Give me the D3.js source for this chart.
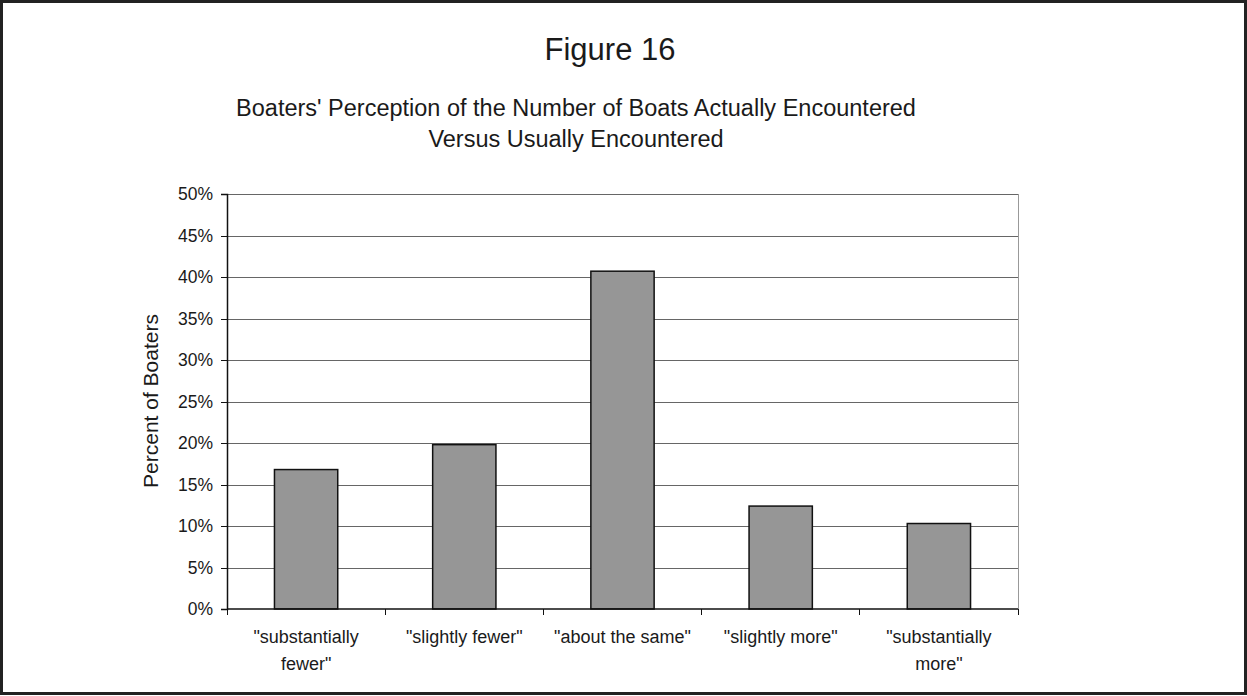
<!DOCTYPE html>
<html>
<head>
<meta charset="utf-8">
<script src="https://cdnjs.cloudflare.com/ajax/libs/d3/7.8.5/d3.min.js"></script>
<style>
  body { margin: 0; background: #fff; }
  svg text { font-family: "Liberation Sans", Arial, sans-serif; fill: #1a1a1a; }
</style>
</head>
<body>
<div id="chart"></div>
<script>
// data
const categories = [
  ['"substantially', 'fewer"'],
  ['"slightly fewer"'],
  ['"about the same"'],
  ['"slightly more"'],
  ['"substantially', 'more"']
];
const percentValues = [0.168, 0.198, 0.407, 0.124, 0.103];
const yTickValues = [0, 0.05, 0.1, 0.15, 0.2, 0.25, 0.3, 0.35, 0.4, 0.45, 0.5];

const W = 1247, H = 696;
const plot = { left: 227, right: 1018, top: 194, bottom: 609 };

const svg = d3.select("#chart")
  .append("svg")
  .attr("width", W)
  .attr("height", H);

// outer frame
svg.append("rect")
  .attr("x", 1.5).attr("y", 1.5)
  .attr("width", W - 3).attr("height", H - 4)
  .attr("fill", "#fff")
  .attr("stroke", "#222")
  .attr("stroke-width", 3);

// titles
svg.append("text")
  .attr("x", 610).attr("y", 60)
  .attr("text-anchor", "middle")
  .attr("font-size", 31)
  .text("Figure 16");

const subLines = [
  "Boaters' Perception of the Number of Boats Actually Encountered",
  "Versus Usually Encountered"
];
svg.append("g").selectAll("text")
  .data(subLines)
  .enter()
  .append("text")
  .attr("x", 576)
  .attr("y", (d, i) => 116 + i * 31)
  .attr("text-anchor", "middle")
  .attr("font-size", 23.5)
  .text(d => d);

// scales
const keys = categories.map((c, i) => "c" + i);
const x = d3.scaleBand()
  .domain(keys)
  .range([plot.left, plot.right])
  .paddingInner(0.6)
  .paddingOuter(0.3);
const xCat = d3.scaleBand()
  .domain(keys)
  .range([plot.left, plot.right]);
const y = d3.scaleLinear()
  .domain([0, 0.5])
  .range([plot.bottom, plot.top]);

// gridlines
const grid = svg.append("g")
  .attr("transform", `translate(${plot.left},0)`)
  .call(d3.axisLeft(y)
    .tickValues(yTickValues.slice(1))
    .tickSize(-(plot.right - plot.left))
    .tickFormat(""));
grid.select(".domain").remove();
grid.selectAll("line").attr("stroke", "#666").attr("shape-rendering", "crispEdges");

// right edge of plot area
svg.append("line")
  .attr("x1", plot.right).attr("x2", plot.right)
  .attr("y1", plot.top).attr("y2", plot.bottom)
  .attr("stroke", "#999")
  .attr("shape-rendering", "crispEdges");

// bars
svg.append("g").selectAll("rect")
  .data(percentValues)
  .enter()
  .append("rect")
  .attr("x", (d, i) => x(keys[i]))
  .attr("y", d => y(d))
  .attr("width", x.bandwidth())
  .attr("height", d => y(0) - y(d))
  .attr("fill", "#969696")
  .attr("stroke", "#111")
  .attr("stroke-width", 1.5);

// y axis
const yAxis = svg.append("g")
  .attr("transform", `translate(${plot.left},0)`)
  .call(d3.axisLeft(y)
    .tickValues(yTickValues)
    .tickSize(6)
    .tickPadding(8)
    .tickFormat(d3.format(".0%")));
yAxis.select(".domain").attr("stroke", "#111").attr("stroke-width", 1.5);
yAxis.selectAll(".tick line").attr("stroke", "#111").attr("shape-rendering", "crispEdges");
yAxis.selectAll("text")
  .attr("font-size", 17.5)
  .style("font-family", '"Liberation Sans", Arial, sans-serif')
  .attr("fill", "#1a1a1a");

// x axis line with category separators
const xAxis = svg.append("g").attr("class", "x axis");
xAxis.append("line")
  .attr("x1", plot.left).attr("x2", plot.right)
  .attr("y1", plot.bottom).attr("y2", plot.bottom)
  .attr("stroke", "#111")
  .attr("stroke-width", 1.5);
xAxis.selectAll(".sep")
  .data(keys.concat(["end"]))
  .enter()
  .append("line")
  .attr("class", "sep")
  .attr("x1", d => d === "end" ? plot.right : xCat(d))
  .attr("x2", d => d === "end" ? plot.right : xCat(d))
  .attr("y1", plot.bottom)
  .attr("y2", plot.bottom + 6)
  .attr("stroke", "#111")
  .attr("shape-rendering", "crispEdges");

// category labels
const catLabels = xAxis.selectAll(".cat")
  .data(categories)
  .enter()
  .append("text")
  .attr("class", "cat")
  .attr("text-anchor", "middle")
  .attr("font-size", 18)
  .attr("transform", (d, i) => `translate(${x(keys[i]) + x.bandwidth() / 2},643)`);
catLabels.selectAll("tspan")
  .data(d => d)
  .enter()
  .append("tspan")
  .attr("x", 0)
  .attr("dy", (d, i) => i === 0 ? 0 : 27)
  .text(d => d);

// y axis title
svg.append("text")
  .attr("transform", "translate(158,401) rotate(-90)")
  .attr("text-anchor", "middle")
  .attr("font-size", 21)
  .text("Percent of Boaters");
</script>
</body>
</html>
